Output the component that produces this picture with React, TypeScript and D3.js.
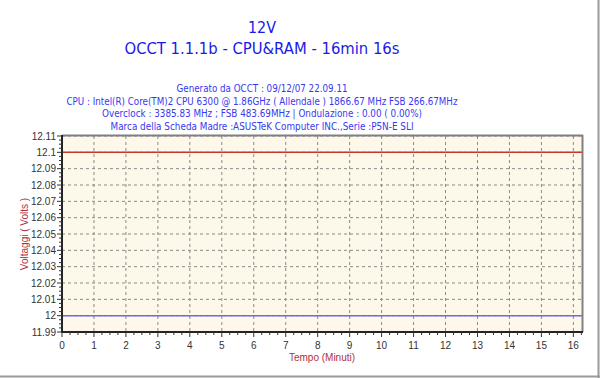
import React from "react";
import * as d3 from "d3";

const titleLines = ["12V", "OCCT 1.1.1b - CPU&RAM - 16min 16s"];
const infoLines = [
  "Generato da OCCT : 09/12/07 22.09.11",
  "CPU : Intel(R) Core(TM)2 CPU 6300 @ 1.86GHz ( Allendale ) 1866.67 MHz FSB 266.67MHz",
  "Overclock : 3385.83 MHz ; FSB 483.69MHz | Ondulazione : 0.00 ( 0.00%)",
  "Marca della Scheda Madre :ASUSTeK Computer INC.,Serie :P5N-E SLI",
];
const xTicks = [0, 1, 2, 3, 4, 5, 6, 7, 8, 9, 10, 11, 12, 13, 14, 15, 16];
const yTicks = [11.99, 12, 12.01, 12.02, 12.03, 12.04, 12.05, 12.06, 12.07, 12.08, 12.09, 12.1, 12.11];
const timeMin = [0, 16.27];
const maxVolt = [12.1, 12.1];
const curVolt = [12.0, 12.0];
const xLabel = "Tempo (Minuti)";
const yLabel = "Voltaggi ( Volts )";

export default function App() {
  const W = 600, H = 378;
  const L = 62, R = 582, T = 136, B = 332;
  const x = d3.scaleLinear().domain([0, 16.27]).range([L, R]);
  const y = d3.scaleLinear().domain([11.99, 12.11]).range([B, T]);
  const line = d3
    .line<number>()
    .x((_, i) => x(timeMin[i]))
    .y((d) => y(d));
  const xMinor: number[] = [];
  for (let v = 0; v <= 16.27 + 1e-9; v += 0.25) xMinor.push(v);
  const yMinor: number[] = [];
  for (let k = 0; k <= 48; k++) yMinor.push(11.99 + k * 0.0025);
  const font = "Tahoma, 'DejaVu Sans', 'Liberation Sans', sans-serif";
  const fmt = (v: number) => String(+v.toFixed(2));
  return (
    <svg
      width={W}
      height={H}
      style={{ position: "absolute", left: 0, top: 0, background: "#fff" }}
      fontFamily={font}
    >
      <rect x={0} y={0} width={W} height={H} fill="#fff" />
      <line x1={W - 1.5} y1={0} x2={W - 1.5} y2={H} stroke="#9a9a9a" strokeWidth={2} />
      <line x1={0} y1={H - 1.5} x2={W} y2={H - 1.5} stroke="#9a9a9a" strokeWidth={2} />
      {titleLines.map((t, i) => (
        <text key={t} x={262} y={33 + i * 21} textAnchor="middle" fontSize={16} fill="#1a1ae6" fontFamily="'DejaVu Sans', sans-serif" textLength={i === 0 ? 28 : 275} lengthAdjust="spacingAndGlyphs">
          {t}
        </text>
      ))}
      {infoLines.map((t, i) => (
        <text key={t} x={262} y={92 + i * 12.6} textAnchor="middle" fontSize={10.5} fill="#3838f0" fontFamily="'DejaVu Sans', sans-serif"
          textLength={[171, 391, 320, 303][i]} lengthAdjust="spacingAndGlyphs">
          {t}
        </text>
      ))}
      <rect x={L} y={T} width={R - L} height={B - T} fill="#fdf8ea" />
      {xTicks.filter((v) => v > 0).map((v) => (
        <line key={"gx" + v} x1={x(v)} x2={x(v)} y1={T} y2={B} stroke="#8a8a8a" strokeDasharray="3,3" />
      ))}
      {yTicks.filter((v) => v > 11.995).map((v) => (
        <line key={"gy" + v} x1={L} x2={R} y1={y(v)} y2={y(v)} stroke="#8a8a8a" strokeDasharray="3,3" />
      ))}
      <path d={line(maxVolt) || ""} fill="none" stroke="#c0392b" strokeWidth={1.5} />
      <path d={line(curVolt) || ""} fill="none" stroke="#6a6af0" strokeWidth={1.5} />
      <line x1={L} x2={R + 1} y1={T - 0.5} y2={T - 0.5} stroke="#808080" strokeWidth={2} />
      <line x1={R + 0.5} x2={R + 0.5} y1={T - 1} y2={B} stroke="#808080" strokeWidth={2} />
      <line x1={L} x2={L} y1={T - 1} y2={B + 1} stroke="#222" strokeWidth={2} />
      <line x1={L - 1} x2={R + 1} y1={B} y2={B} stroke="#222" strokeWidth={2} />
      {xMinor.map((v, i) => (
        <line key={"xm" + i} x1={x(v)} x2={x(v)} y1={B} y2={B + (i % 4 === 0 ? 5 : 3)} stroke="#333" />
      ))}
      {yMinor.map((v, i) => (
        <line key={"ym" + i} x1={L - (i % 4 === 0 ? 5 : 3)} x2={L} y1={y(v)} y2={y(v)} stroke="#333" />
      ))}
      {xTicks.map((v) => (
        <text key={"xt" + v} x={x(v)} y={349} textAnchor="middle" fontSize={10} fill="#333" fontFamily="'Liberation Sans', Arial, sans-serif">
          {v}
        </text>
      ))}
      {yTicks.map((v) => (
        <text key={"yt" + v} x={56} y={y(v) + 3.5} textAnchor="end" fontSize={10} fill="#333" fontFamily="'Liberation Sans', Arial, sans-serif">
          {fmt(v)}
        </text>
      ))}
      <text x={(L + 572) / 2 + 5} y={361} textAnchor="middle" fontSize={10} fill="#b03040" fontFamily="'Liberation Sans', Arial, sans-serif">
        {xLabel}
      </text>
      <text transform={`translate(28,${(T + B) / 2}) rotate(-90)`} textAnchor="middle" fontSize={10} fill="#b03040" fontFamily="'Liberation Sans', Arial, sans-serif">
        {yLabel}
      </text>
    </svg>
  );
}
